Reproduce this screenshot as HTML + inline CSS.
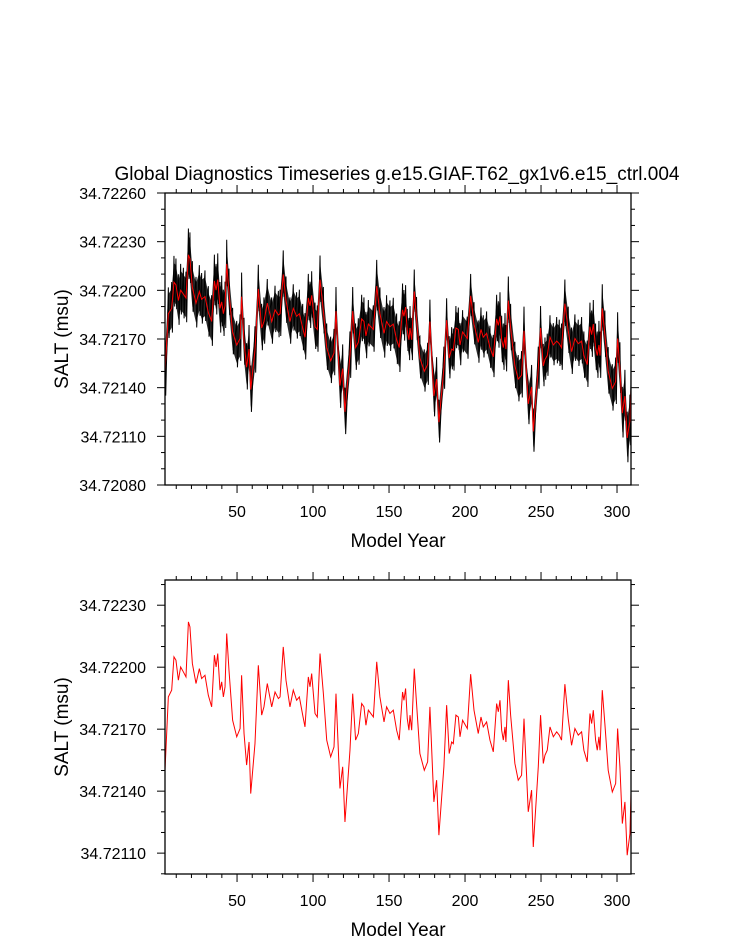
<!DOCTYPE html>
<html><head><meta charset="utf-8"><style>
html,body{margin:0;padding:0;background:#fff;}
svg{display:block;font-family:"Liberation Sans",Arial,sans-serif;}
</style></head><body>
<svg id="chart" width="733" height="945" viewBox="0 0 733 945">
<text x="397" y="180" text-anchor="middle" font-size="19">Global Diagnostics Timeseries g.e15.GIAF.T62_gx1v6.e15_ctrl.004</text>
</svg>
<script>
// Values are offsets in units of 1e-5 msu above 34.72000
const redYears = [2.6,4.8,7.0,8.5,9.8,11.4,12.9,14.7,16.4,18.0,19.0,20.6,23.0,25.2,26.7,28.9,31.1,33.3,35.1,36.2,37.3,38.8,39.9,41.0,42.1,43.2,44.7,47.1,49.8,52.0,53.0,54.6,56.3,57.9,59.0,61.8,64.0,66.2,67.7,69.9,72.8,75.0,77.2,78.3,80.4,82.2,84.8,87.0,89.2,91.0,93.2,94.7,96.9,98.0,99.1,101.3,102.8,104.6,106.8,109.0,111.6,113.8,115.1,117.7,119.5,121.0,124.3,126.1,128.0,129.8,132.0,133.5,134.8,136.4,139.7,141.9,144.0,146.7,148.4,150.6,152.8,155.0,156.7,158.9,159.8,160.9,162.0,163.1,163.8,164.9,166.6,168.1,170.3,173.2,175.4,176.9,179.5,181.3,182.8,186.1,187.9,189.6,191.2,192.3,194.0,195.6,196.7,198.4,201.5,203.7,205.9,208.7,210.5,212.0,214.2,216.4,218.6,220.8,221.9,223.0,224.1,225.2,226.3,226.9,228.5,230.0,232.8,235.0,237.2,238.8,241.6,243.8,244.9,248.2,249.7,251.5,252.6,254.1,255.9,258.1,260.3,262.0,263.5,265.7,267.9,270.1,272.3,274.5,276.7,278.2,280.4,282.2,283.3,284.4,285.9,287.0,288.1,288.8,290.3,292.0,294.2,296.9,299.1,300.4,301.9,303.5,305.2,306.7,308.5,309.2];
const redValues = [150.1,185.6,188.9,205.0,203.4,193.7,200.1,197.7,195.3,221.9,219.5,201.8,192.1,199.3,194.5,196.1,186.4,180.8,205.8,200.1,206.6,188.9,192.9,185.6,190.5,216.3,198.5,174.3,166.3,170.3,196.1,167.9,152.6,163.8,138.8,163.0,200.9,176.8,180.8,192.1,180.8,188.0,184.8,185.6,209.8,193.7,180.8,188.9,184.0,185.6,176.8,171.1,195.3,190.5,196.9,177.6,175.9,206.6,187.2,164.7,156.6,161.4,187.2,141.3,151.8,125.1,159.8,187.2,164.7,167.9,182.4,180.8,171.9,179.2,175.9,202.6,185.6,173.5,180.8,177.6,179.2,169.5,164.7,188.0,184.0,189.7,175.1,169.5,176.8,169.5,199.3,182.4,158.2,150.1,154.2,180.8,134.8,145.3,118.7,151.8,181.6,158.2,163.8,163.0,176.8,175.9,166.3,174.3,170.3,196.6,179.2,167.9,175.9,171.1,173.5,164.7,159.0,182.4,178.4,184.0,169.5,164.7,171.1,163.8,193.7,176.8,153.4,145.3,147.7,175.1,130.0,140.5,113.0,151.8,176.8,153.4,157.4,159.8,171.1,166.3,168.7,167.1,164.7,191.8,175.1,162.2,170.3,167.1,168.7,159.8,154.2,177.6,172.7,179.2,164.7,159.8,166.3,159.8,188.9,172.7,150.1,139.6,143.7,170.3,151.8,124.3,134.8,109.0,119.5,138.8];
// monthly spread (half-width of black monthly series around annual mean), per 20-year bin
const spreadBins = [12,12,11,11,11,11,11,12,10,10,10,11,10,11,11,12];
const xTicks = [50,100,150,200,250,300];
const topYTicks = [80,110,140,170,200,230,260];
const botYTicks = [110,140,170,200,230];

const NS='http://www.w3.org/2000/svg';
const svg=document.getElementById('chart');
function mk(tag,attrs,parent){const e=document.createElementNS(NS,tag);for(const k in attrs)e.setAttribute(k,attrs[k]);(parent||svg).appendChild(e);return e;}

function panel(cfg){
  const {L,R,T,B,vmin,vmax,yTicks,name,showBlack}=cfg;
  const xmin=2.6,xmax=309.2;
  const xs=y=>L+(y-xmin)/(xmax-xmin)*(R-L);
  const ys=v=>B-(v-vmin)/(vmax-vmin)*(B-T);
  const g=mk('g',{});
  
  
  const cp='clip-'+name;
  const defs=mk('defs',{},g);const c=mk('clipPath',{id:cp},defs);mk('rect',{x:L,y:T,width:R-L,height:B-T},c);
  const plot=mk('g',{'clip-path':'url(#'+cp+')'},g);
  if(showBlack){
    const hiPts=[],loPts=[];
    for(let i=0;i<redYears.length;i++){
      const s=spreadBins[Math.min(spreadBins.length-1,Math.floor(redYears[i]/20))];
      hiPts.push([xs(redYears[i]),ys(redValues[i]+s)]);
      loPts.push([xs(redYears[i]),ys(redValues[i]-s)]);
    }
    const band=mk('polygon',{points:hiPts.map(p=>p.join(',')).join(' ')+' '+loPts.slice().reverse().map(p=>p.join(',')).join(' '),fill:'#2a2a2a'},plot);
    
    
    const zp=[];
    for(let i=0;i<redYears.length;i++){
      const s=spreadBins[Math.min(spreadBins.length-1,Math.floor(redYears[i]/20))];
      zp.push(xs(redYears[i])+','+ys(redValues[i]+s*1.35));
      zp.push((xs(redYears[i])+0.7)+','+ys(redValues[i]-s*1.25));
    }
    const z=mk('polyline',{points:zp.join(' '),fill:'none',stroke:'#000','stroke-width':1},plot);
    
    
  }
  const rl=mk('polyline',{points:redYears.map((y,i)=>xs(y)+','+ys(redValues[i])).join(' '),fill:'none',stroke:'#ff0000','stroke-width':1},plot);
  
  
  const fr=mk('rect',{x:L,y:T,width:R-L,height:B-T,fill:'none',stroke:'#000','stroke-width':1.3},g);
  
  
  for(let yr=10;yr<=xmax;yr+=10){
    const X=xs(yr),len=(yr%50===0)?8:4;
    mk('line',{x1:X,x2:X,y1:B,y2:B+len,stroke:'#000','stroke-width':1},g);
    mk('line',{x1:X,x2:X,y1:T,y2:T-len,stroke:'#000','stroke-width':1},g);
  }
  xTicks.forEach(t=>{
    const tx=mk('text',{x:xs(t),y:B+32,'text-anchor':'middle','font-size':16},g);
    tx.textContent=t;
    
    
  });
  for(let v=Math.ceil(vmin/10)*10;v<=vmax+0.01;v+=10){
    const Y=ys(v),len=((v-yTicks[0])%30===0)?8:4;
    mk('line',{x1:L,x2:L-len,y1:Y,y2:Y,stroke:'#000','stroke-width':1},g);
    mk('line',{x1:R,x2:R+len,y1:Y,y2:Y,stroke:'#000','stroke-width':1},g);
  }
  yTicks.forEach(t=>{
    const tx=mk('text',{x:146,y:ys(t)+6,'text-anchor':'end','font-size':16},g);
    tx.textContent=(34.72+t*1e-5).toFixed(5);
    
    
  });
  const xt=mk('text',{x:(L+R)/2,y:B+62,'text-anchor':'middle','font-size':19},g);
  xt.textContent='Model Year';
  
  
  const cy=(T+B)/2;
  const yt=mk('text',{x:68,y:cy,'text-anchor':'middle','font-size':19,transform:'rotate(-90 68 '+cy+')'},g);
  yt.textContent='SALT (msu)';
  
  
}
panel({L:165,R:631,T:193,B:485,vmin:80,vmax:260,yTicks:topYTicks,name:'top-panel',showBlack:true});
panel({L:165,R:631,T:580,B:874,vmin:99.9,vmax:242.2,yTicks:botYTicks,name:'bottom-panel',showBlack:false});
</script>
</body></html>
